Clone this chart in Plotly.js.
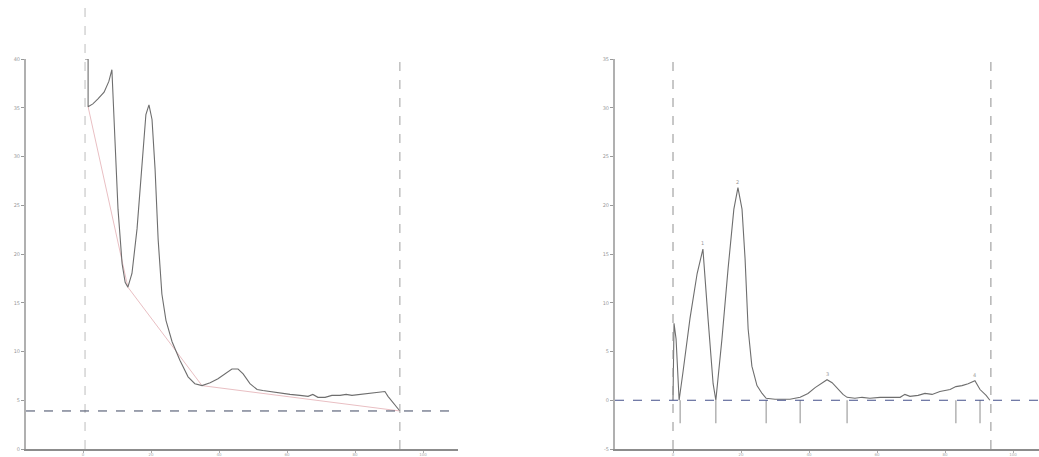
<!DOCTYPE html>
<html>
<head>
<meta charset="utf-8">
<script src="https://cdn.plot.ly/plotly-3.0.1.min.js"></script>
<style>html,body{margin:0;padding:0;background:#fff;}#chart{width:1039px;height:457px;}</style>
</head>
<body>
<div id="chart"></div>
<script>
// Raw signal (left panel)
var rawX = [0.6,1.5,1.5,2.9,4.4,6.2,7.6,8.5,9.4,10.3,11.5,12.4,13.2,14.4,15.9,17.4,18.5,19.4,20.3,21.2,22.1,23.2,24.4,26.2,28.5,30.9,32.9,35.0,37.4,39.7,42.1,43.8,45.6,47.1,49.1,51.2,52.9,55.0,57.9,60.9,63.8,66.2,67.6,69.1,71.2,73.2,75.6,77.4,79.1,81.5,84.4,86.8,88.8,89.7,91.2,93.2];
var rawY = [40.0,40.0,35.1,35.4,35.9,36.6,37.7,38.9,31.7,24.6,19.0,17.1,16.6,18.0,22.6,29.7,34.3,35.3,33.8,28.7,21.5,15.9,13.2,11.0,9.1,7.4,6.7,6.5,6.8,7.2,7.8,8.2,8.2,7.7,6.7,6.1,6.0,5.9,5.7,5.6,5.5,5.4,5.6,5.3,5.3,5.5,5.5,5.6,5.5,5.6,5.7,5.8,5.9,5.4,4.8,3.9];
// Fitted baseline (left panel)
var baseX = [1.5,13.2,35.0,93.2];
var baseY = [35.1,16.6,6.5,3.9];
var baseLevel = 3.9;
var leftStart = 0.6, leftEnd = 93.2;

// Corrected signal (right panel)
var corrX = [0,0.3,0.9,1.8,2.9,5.0,7.1,8.8,10.3,11.8,12.6,14.4,16.2,17.9,19.1,20.3,21.2,22.1,23.2,24.7,26.2,27.4,30.0,34.4,37.4,39.7,41.8,43.8,45.3,46.8,48.5,50.0,51.2,53.5,55.6,57.9,60.9,63.8,66.8,68.2,69.7,72.1,74.1,76.2,78.5,80.0,81.5,83.2,85.0,86.8,88.8,90.3,92.1,93.2];
var corrY = [0,7.9,6.3,0,2.8,8.4,13.0,15.5,8.4,1.7,0,6.3,13.5,19.6,21.8,19.6,14.5,7.3,3.5,1.5,0.7,0.2,0.1,0.1,0.3,0.7,1.3,1.8,2.1,1.8,1.2,0.6,0.3,0.2,0.3,0.2,0.3,0.3,0.3,0.6,0.4,0.5,0.7,0.6,0.9,1.0,1.1,1.4,1.5,1.7,2.0,1.1,0.5,0];
var segBounds = [2.1,12.6,27.4,37.4,51.2,83.2,90.3];
var peakX = [8.8,19.1,45.3,88.8];
var peakY = [15.5,21.8,2.1,2.0];
var peakLabels = ['1','2','3','4'];
var rightStart = 0, rightEnd = 93.5;

var xTicks = [0,20,40,60,80,100];
var leftYTicks = [0,5,10,15,20,25,30,35,40];
var rightYTicks = [-5,0,5,10,15,20,25,30,35];

var segX = [], segY = [];
segBounds.forEach(function(b){ segX.push(b,b,null); segY.push(0,-2.35,null); });

var lineCol = '#6e6e6e';
var traces = [
  {x: baseX, y: baseY, xaxis:'x', yaxis:'y', mode:'lines', line:{color:'#e9bfc3', width:1}, hoverinfo:'skip', showlegend:false},
  {x: rawX, y: rawY, xaxis:'x', yaxis:'y', mode:'lines', line:{color:lineCol, width:1.1}, showlegend:false},
  {x: segX, y: segY, xaxis:'x2', yaxis:'y2', mode:'lines', line:{color:'#a0a0a0', width:1.2}, hoverinfo:'skip', showlegend:false},
  {x: corrX, y: corrY, xaxis:'x2', yaxis:'y2', mode:'lines', line:{color:lineCol, width:1.1}, showlegend:false}
];

var yBot = 1 - 449/457, yTop = 1 - 59/457;
function axisX(domain, range, anchorY){
  return {domain: domain, range: range, tickvals: xTicks, ticktext: xTicks.map(String),
    showgrid:false, zeroline:false, showline:true, linecolor:'#8c8c8c', linewidth:2,
    ticks:'outside', ticklen:2, tickcolor:'#aaa', ticklabelstandoff:-2,
    tickfont:{size:4, color:'#aaa', family:'DejaVu Sans'}, anchor: anchorY};
}
function axisY(domain, range, vals, anchorX){
  return {domain: domain, range: range, tickvals: vals, ticktext: vals.map(String),
    showgrid:false, zeroline:false, showline:true, linecolor:'#b0b0b0', linewidth:2,
    ticks:'outside', ticklen:3, tickcolor:'#999', tickfont:{size:5, color:'#999', family:'DejaVu Sans'}, anchor: anchorX};
}

var shapes = [
  // left panel
  {type:'line', xref:'x', yref:'paper', x0:leftStart, x1:leftStart, y0:yBot, y1:1, line:{color:'#bdbdbd', width:1, dash:'dash'}},
  {type:'line', xref:'x', yref:'paper', x0:leftEnd, x1:leftEnd, y0:yBot, y1:yTop+0.01, line:{color:'#a0a0a0', width:1, dash:'dash'}},
  {type:'line', xref:'paper', yref:'y', x0:26/1039, x1:458/1039, y0:baseLevel, y1:baseLevel, line:{color:'#3e4660', width:1, dash:'dash'}},
  // right panel
  {type:'line', xref:'x2', yref:'paper', x0:rightStart, x1:rightStart, y0:yBot, y1:yTop+0.01, line:{color:'#909090', width:1, dash:'dash'}},
  {type:'line', xref:'x2', yref:'paper', x0:rightEnd, x1:rightEnd, y0:yBot, y1:yTop+0.01, line:{color:'#909090', width:1, dash:'dash'}},
  {type:'line', xref:'paper', yref:'y2', x0:615/1039, x1:1, y0:0, y1:0, line:{color:'#44508a', width:1, dash:'dash'}}
];

var annotations = peakX.map(function(px, i){
  return {x: px, y: peakY[i], xref:'x2', yref:'y2', text: peakLabels[i], showarrow:false, yshift:6, font:{size:5, color:'#999', family:'DejaVu Sans'}};
});

var layout = {
  width:1039, height:457, margin:{l:0,r:0,t:0,b:0},
  paper_bgcolor:'#fff', plot_bgcolor:'#fff', showlegend:false,
  xaxis: axisX([26/1039, 458/1039], [(26-83)/3.4, (458-83)/3.4], 'y'),
  yaxis: axisY([yBot, yTop], [0,40], leftYTicks, 'x'),
  xaxis2: axisX([615/1039, 1], [(615-673)/3.4, (1039-673)/3.4], 'y2'),
  yaxis2: axisY([yBot, yTop], [-5,35], rightYTicks, 'x2'),
  shapes: shapes, annotations: annotations
};

Plotly.newPlot('chart', traces, layout, {displayModeBar:false, staticPlot:true});
</script>
</body>
</html>
